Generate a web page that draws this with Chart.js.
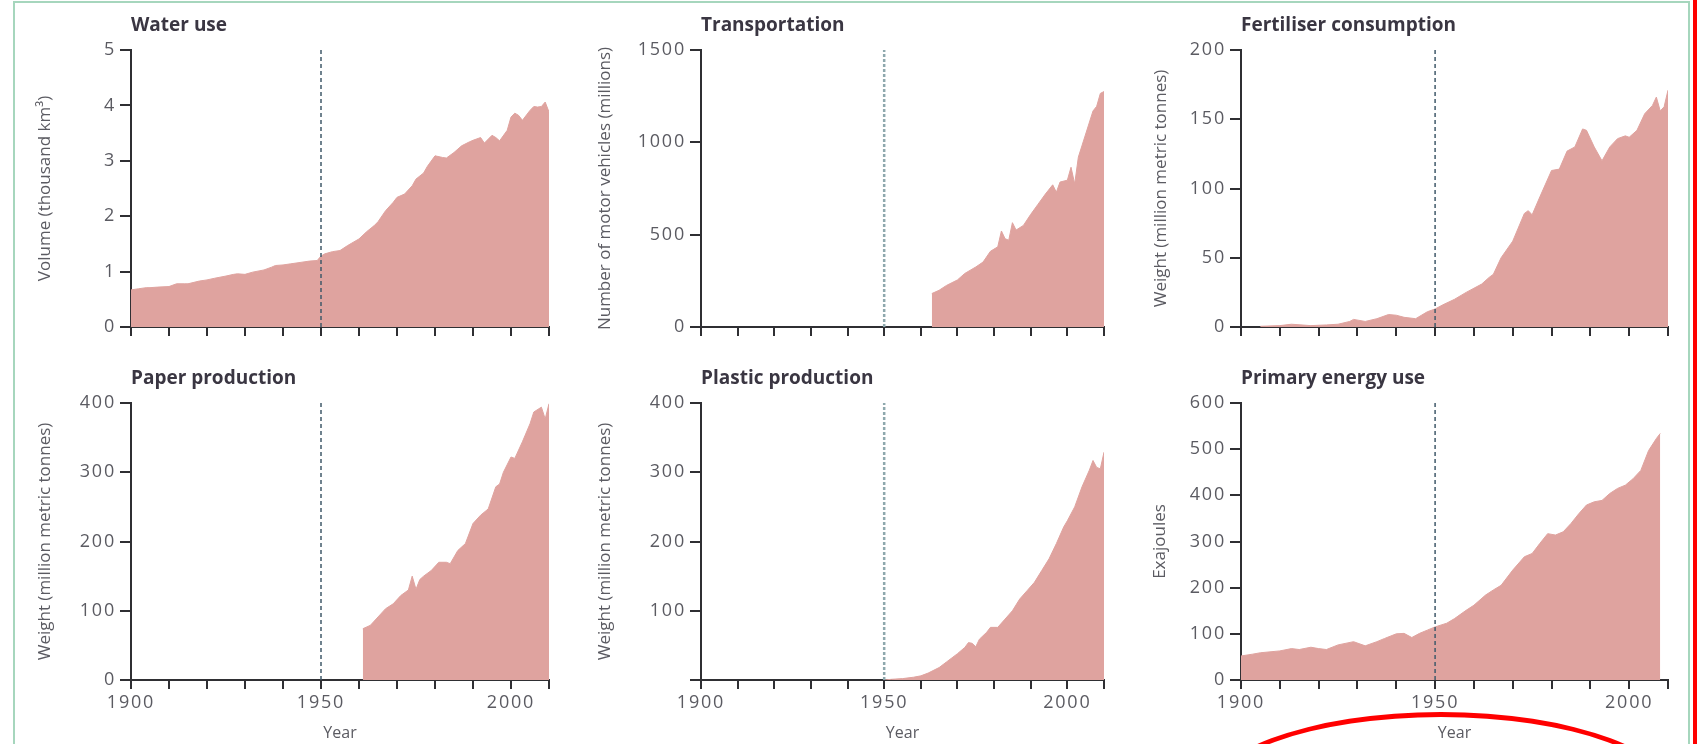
<!DOCTYPE html>
<html>
<head>
<meta charset="utf-8">
<script src="https://cdn.jsdelivr.net/npm/chart.js@4.4.1/dist/chart.umd.min.js"></script>
<style>
html,body{margin:0;padding:0;background:#fff}
body{width:1699px;height:744px;position:relative;overflow:hidden}
canvas{position:absolute}
.frame{position:absolute;left:13px;top:1px;width:1677px;height:780px;box-sizing:border-box;border:2px solid #a6d6bd}
.redline{position:absolute;left:1693px;top:0;width:4px;height:744px;background:#f00}
.ring{position:absolute;left:1201px;top:712px;width:480px;height:180px;box-sizing:border-box;border:5px solid #f00;border-radius:50%;z-index:5}
</style>
</head>
<body>
<div class="frame"></div>
<div class="redline"></div>
<div class="ring"></div>
<script>
// values
const waterYears = [1900,1902,1904,1905,1907,1910,1912,1914,1915,1918,1920,1922,1925,1927,1928,1930,1932,1935,1937,1938,1940,1942,1945,1947,1949,1950,1951,1953,1955,1957,1960,1962,1964,1965,1967,1969,1970,1972,1974,1975,1977,1978,1980,1982,1983,1985,1987,1989,1990,1992,1993,1995,1996,1997,1999,2000,2001,2002,2003,2005,2006,2007,2008,2009,2010]
const waterValues = [0.67,0.69,0.71,0.71,0.72,0.73,0.78,0.78,0.78,0.83,0.85,0.88,0.92,0.95,0.96,0.95,0.99,1.03,1.08,1.11,1.12,1.14,1.17,1.19,1.20,1.28,1.32,1.36,1.38,1.47,1.59,1.72,1.83,1.90,2.10,2.25,2.34,2.40,2.55,2.67,2.78,2.90,3.09,3.06,3.05,3.15,3.27,3.34,3.37,3.42,3.32,3.46,3.42,3.36,3.55,3.79,3.86,3.82,3.73,3.91,3.98,3.97,3.98,4.06,3.88]

const carYears = [1963,1965,1967,1970,1972,1975,1977,1979,1981,1982,1983,1984,1985,1986,1988,1990,1992,1994,1996,1997,1998,2000,2001,2002,2003,2005,2007,2008,2009,2010]
const carValues = [181,199,225,255,290,325,352,410,434,520,478,470,565,525,550,610,665,720,770,730,785,795,865,775,920,1045,1170,1195,1265,1275]

const fertYears = [1905,1910,1913,1918,1922,1925,1928,1929,1932,1935,1938,1940,1942,1945,1948,1950,1952,1955,1958,1962,1964,1965,1967,1970,1973,1974,1975,1977,1980,1982,1984,1986,1988,1989,1991,1993,1995,1997,1999,2000,2002,2004,2006,2007,2008,2009,2010]
const fertValues = [0.5,1,2,1,1.5,2,4,5.5,4,6,9,8.5,7,6,11,13,16,20,25,31,36,38,50,62,82,84,81,94,113,114,127,130,143,142,130,120,130,136,138,137,142,154,160,166,156,159,171]

const paperYears = [1961,1963,1965,1967,1969,1971,1973,1974,1975,1976,1977,1979,1981,1983,1984,1986,1988,1990,1992,1994,1996,1997,1998,2000,2001,2003,2005,2006,2008,2009,2010]
const paperValues = [74,79,91,103,110,122,130,150,131,145,150,158,170,170,168,187,197,226,238,247,279,283,300,322,320,344,370,387,394,377,399]

const plasticYears = [1950,1952,1955,1958,1960,1962,1965,1967,1970,1972,1973,1974,1975,1976,1978,1979,1981,1983,1985,1987,1989,1991,1993,1995,1997,1999,2000,2002,2004,2006,2007,2008,2009,2010]
const plasticValues = [0,1,2,4,6,10,18,26,38,47,54,53,48,59,69,76,76,88,100,117,129,141,158,175,197,221,230,250,279,303,317,307,305,329]

const energyYears = [1900,1903,1905,1910,1913,1915,1918,1920,1922,1925,1929,1932,1935,1937,1940,1942,1944,1946,1948,1950,1953,1955,1958,1960,1963,1965,1967,1970,1973,1975,1977,1979,1981,1983,1985,1987,1989,1991,1993,1995,1997,1999,2001,2003,2005,2007,2008]
const energyValues = [52,56,59,63,68,66,71,68,66,76,83,74,83,90,100,101,92,101,108,115,123,133,151,162,184,195,205,238,267,274,296,317,314,321,339,360,379,386,389,404,415,422,436,454,497,523,534]

const yearLabels = [1900, 1950, 2000]
const markYear = 1950

const fillColor = '#dfa39f'
const axisColor = '#2f2f33'
const tickColor = '#5b5b62'
const titleColor = '#3a3642'
const fontFamily = '"Open Sans", "Noto Sans", sans-serif'
Chart.defaults.font.family = fontFamily

const panels = [
  {title:'Water use', yTitle:'Volume (thousand km³)', years:waterYears, values:waterValues, yMax:5, yStep:1, axisX:131, right:549, top:50, bottomRow:false, titlePad:29, light:false},
  {title:'Transportation', yTitle:'Number of motor vehicles (millions)', years:carYears, values:carValues, yMax:1500, yStep:500, axisX:701, right:1104, top:50, bottomRow:false, titlePad:19, light:true},
  {title:'Fertiliser consumption', yTitle:'Weight (million metric tonnes)', years:fertYears, values:fertValues, yMax:200, yStep:50, axisX:1241, right:1668, top:50, bottomRow:false, titlePad:35, light:false},
  {title:'Paper production', yTitle:'Weight (million metric tonnes)', years:paperYears, values:paperValues, yMax:400, yStep:100, axisX:131, right:549, top:403, bottomRow:true, titlePad:29, light:false},
  {title:'Plastic production', yTitle:'Weight (million metric tonnes)', years:plasticYears, values:plasticValues, yMax:400, yStep:100, axisX:701, right:1104, top:403, bottomRow:true, titlePad:19, light:true, hideZero:true},
  {title:'Primary energy use', yTitle:'Exajoules', years:energyYears, values:energyValues, yMax:600, yStep:100, axisX:1241, right:1668, top:403, bottomRow:true, titlePad:34, light:false}
]

const Y_W = 125, PAD_T = 45, PAD_R = 15, PLOT_H = 277

function makeChart(p){
  const xH = p.bottomRow ? 63 : 20
  const cv = document.createElement('canvas')
  cv.width = Y_W + (p.right - p.axisX) + PAD_R
  cv.height = PAD_T + PLOT_H + xH
  cv.style.left = (p.axisX - Y_W) + 'px'
  cv.style.top = (p.top - PAD_T) + 'px'
  document.body.appendChild(cv)

  // wide tick digits like the print font; panel heading above the axis
  const panelPlugin = {
    id: 'panelTitle',
    afterDatasetsDraw(chart){ chart.ctx.letterSpacing = '1.8px' },
    afterDraw(chart){
      const {ctx, chartArea} = chart
      ctx.letterSpacing = '0px'
      ctx.save()
      ctx.font = `bold 19px ${fontFamily}`
      ctx.fillStyle = titleColor
      ctx.textBaseline = 'middle'
      ctx.textAlign = 'left'
      ctx.fillText(p.title, chartArea.left, chartArea.top - 24)
      ctx.restore()
    }
  }

  new Chart(cv, {
    type: 'line',
    data: {
      datasets: [
        {
          data: [{x:markYear, y:0}, {x:markYear, y:p.yMax}],
          borderColor: p.light ? '#8ea8ad' : '#40596a',
          borderWidth: p.light ? 2.5 : 1.5,
          borderDash: p.light ? [3,2] : [4,3],
          pointRadius: 0, fill: false, order: 0
        },
        {
          data: p.years.map((y,i)=>({x:y, y:p.values[i]})),
          borderColor: fillColor, backgroundColor: fillColor,
          borderWidth: 1, pointRadius: 0, tension: 0, fill: 'origin', order: 1
        }
      ]
    },
    options: {
      responsive: false, animation: false, devicePixelRatio: 1,
      layout: {padding: {left:0, top:PAD_T, right:PAD_R, bottom:0}},
      plugins: {legend:{display:false}, tooltip:{enabled:false}},
      scales: {
        x: {
          type: 'linear', min: 1900, max: 2010,
          afterFit: s => { s.height = xH },
          border: {display:true, color:axisColor, width:2},
          grid: {drawOnChartArea:false, drawTicks:true, tickLength:9, color:axisColor, lineWidth:2},
          ticks: {z:1, stepSize:10, autoSkip:false, maxRotation:0, padding:3, color:tickColor, font:{size:18},
            callback: v => (p.bottomRow && yearLabels.includes(v)) ? String(v) : ''},
          title: {display:p.bottomRow, text:'Year', color:tickColor, font:{size:16}, padding:0}
        },
        y: {
          min: 0, max: p.yMax,
          afterFit: s => { s.width = Y_W },
          border: {display:true, color:axisColor, width:2},
          grid: {drawOnChartArea:false, drawTicks:true, tickLength:11, color:axisColor, lineWidth:2},
          ticks: {z:1, stepSize:p.yStep, padding:4, color:tickColor, font:{size:18},
            callback: v => (p.hideZero && v === 0) ? '' : String(v)},
          title: {display:true, text:p.yTitle, color:tickColor, font:{size:17}, padding:{top:p.titlePad, bottom:0}}
        }
      }
    },
    plugins: [panelPlugin]
  })
}

panels.forEach(makeChart)
</script>
</body>
</html>
